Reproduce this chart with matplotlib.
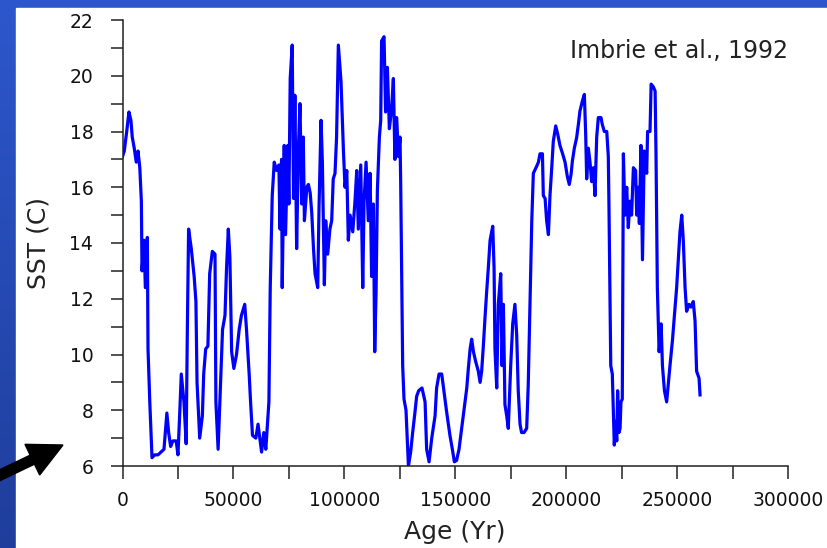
import numpy as np
import matplotlib.pyplot as plt
from matplotlib.patches import Rectangle, FancyArrow
from matplotlib.transforms import IdentityTransform
from matplotlib.colors import LinearSegmentedColormap

# Sea surface temperature record (Imbrie et al., 1992)
age = [0, 800, 1900, 2900, 3800, 4400, 5300, 6200, 7000, 7800,
       8500, 8800, 9700, 10300, 11200, 11500, 12300, 13300, 14500, 16000,
       18700, 19300, 20000, 20800, 21700, 22700, 24200, 25000, 25700, 26500,
       27700, 28700, 29200, 29800, 31000, 32300, 33100, 33600, 34800, 36000,
       36600, 37500, 38500, 39300, 40500, 41700, 42100, 43100, 44200, 45100,
       46200, 46900, 47700, 48400, 49200, 50200, 51400, 52600, 53600, 55100,
       55900, 57100, 57800, 58600, 60100, 61100, 61900, 62700, 63700, 64600,
       65400, 66000, 66600, 67500, 68400, 69500, 70500, 71000, 71700, 72000,
       72900, 73500, 74500, 75000, 75600, 76500, 77100, 77700, 78500, 79300,
       80000, 80800, 81500, 82000, 83100, 83800, 84600, 85300, 86100, 86800,
       88000, 88600, 89500, 90100, 91000, 91600, 92500, 93500, 94300, 95000,
       95800, 96500, 97300, 98500, 99600, 100300, 101100, 101800, 102600, 103800,
       104800, 105600, 106300, 107400, 108300, 108900, 109800, 110800, 111600, 112300,
       113100, 113700, 114300, 114900, 115800, 116400, 116800, 117900, 118600, 119400,
       120300, 121300, 122100, 122800, 123600, 124400, 125100, 125400, 126300, 126900,
       127800, 128900, 129900, 130800, 131800, 132600, 133500, 135000, 136400, 137100,
       138200, 139400, 140900, 141600, 142700, 143900, 145100, 146100, 147600, 148700,
       149600, 150600, 151700, 152900, 154100, 155200, 155900, 156700, 157400, 158200,
       159200, 160400, 161200, 161900, 162700, 163400, 164200, 164900, 165700, 166900,
       167500, 167900, 168700, 169400, 170500, 171100, 171700, 172400, 173200, 173900,
       175000, 175900, 176900, 177700, 178400, 179200, 179900, 181000, 182200, 182900,
       183700, 184500, 185200, 186400, 187500, 188200, 189300, 189700, 190500, 191200,
       192000, 192700, 193500, 194200, 195300, 196200, 197200, 198400, 199500, 200500,
       201400, 202200, 202800, 203700, 204700, 205500, 206200, 207300, 208200, 208800,
       209250, 210000, 210750, 211500, 212260, 213000, 213760, 214500, 215700, 216300,
       217200, 218300, 219000, 219300, 220100, 220800, 221300, 221700, 222300, 222800,
       223200, 223800, 224300, 224700, 225300, 225800, 226500, 227300, 228000, 228800,
       229500, 230300, 231300, 231800, 232500, 233000, 233700, 234400, 235200, 236300,
       236700, 237800, 238300, 239300, 240100, 240500, 241100, 241900, 242800, 243400,
       244300, 245300, 246100, 246800, 247900, 248800, 249800, 250600, 251300, 252100,
       252800, 253600, 254300, 255400, 256300, 257300, 258100, 258800, 259900, 260350]

sst = [17.1, 17.3, 18.0, 18.7, 18.4, 17.8, 17.4, 16.9, 17.3, 16.7,
       15.5, 13.0, 14.1, 12.4, 14.2, 10.2, 8.3, 6.3, 6.4, 6.4,
       6.6, 7.2, 7.9, 7.2, 6.7, 6.9, 6.9, 6.4, 7.7, 9.3,
       8.3, 6.8, 10.7, 14.5, 13.8, 12.8, 11.9, 9.0, 7.0, 7.8,
       9.3, 10.2, 10.3, 12.9, 13.7, 13.6, 8.3, 6.6, 9.0, 10.9,
       11.4, 13.1, 14.5, 13.5, 10.1, 9.5, 10.0, 10.9, 11.4, 11.8,
       10.9, 9.3, 8.2, 7.1, 7.0, 7.5, 7.0, 6.5, 7.2, 6.6,
       7.6, 8.3, 12.4, 15.7, 16.9, 16.6, 16.8, 14.5, 17.0, 12.4,
       17.5, 14.3, 17.5, 15.4, 19.9, 21.1, 15.6, 19.3, 13.8, 17.4,
       19.0, 15.4, 17.8, 14.8, 16.0, 16.1, 15.8, 15.1, 13.8, 12.9,
       12.4, 15.3, 18.4, 16.9, 12.5, 14.8, 13.6, 14.5, 14.8, 16.3,
       16.5, 17.8, 21.1, 19.8, 17.3, 16.0, 16.6, 14.1, 15.0, 14.4,
       15.5, 16.6, 14.5, 16.8, 12.4, 15.5, 16.9, 14.8, 16.5, 12.8,
       15.4, 10.1, 12.2, 15.9, 17.8, 18.4, 21.25, 21.4, 18.7, 20.3,
       18.1, 18.8, 19.9, 17.0, 18.5, 17.1, 17.8, 16.2, 9.6, 8.4,
       8.0, 6.0, 6.5, 7.2, 7.9, 8.5, 8.7, 8.8, 8.3, 6.6,
       6.15, 7.0, 7.8, 8.8, 9.3, 9.3, 8.55, 7.95, 7.1, 6.6,
       6.15, 6.2, 6.6, 7.35, 8.1, 8.8, 9.5, 10.2, 10.55, 10.1,
       9.75, 9.4, 9.0, 9.4, 10.35, 11.3, 12.3, 13.1, 14.1, 14.6,
       13.1, 10.2, 8.8, 11.8, 12.9, 9.6, 11.8, 8.2, 7.8, 7.35,
       9.6, 11.1, 11.8, 10.7, 8.7, 7.5, 7.2, 7.2, 7.35, 8.9,
       11.9, 14.8, 16.5, 16.7, 16.9, 17.2, 17.2, 15.7, 15.6, 14.8,
       14.3, 15.7, 16.7, 17.65, 18.2, 17.9, 17.5, 17.2, 16.9, 16.4,
       16.1, 16.46, 16.94, 17.41, 17.77, 18.25, 18.73, 19.09, 19.33, 17.9,
       16.3, 17.4, 16.9, 16.2, 16.7, 15.7, 17.8, 18.5, 18.5, 18.25,
       18.0, 18.0, 17.1, 15.3, 9.6, 9.3, 7.8, 6.75, 7.6, 6.9,
       8.7, 7.2, 7.35, 8.3, 8.4, 17.2, 15.0, 16.0, 14.55, 15.5,
       15.0, 16.7, 16.6, 15.0, 16.0, 14.7, 17.5, 13.4, 17.3, 16.5,
       18.0, 18.0, 19.7, 19.6, 19.45, 17.2, 12.4, 10.1, 11.1, 9.6,
       8.7, 8.3, 9.0, 9.6, 10.5, 11.4, 12.4, 13.5, 14.4, 15.0,
       14.1, 12.4, 11.55, 11.8, 11.7, 11.9, 11.2, 9.4, 9.15, 8.55]

x_ticks = [0, 50000, 100000, 150000, 200000, 250000, 300000]
y_ticks = [6, 8, 10, 12, 14, 16, 18, 20, 22]

W, H = 827, 548
fig = plt.figure(figsize=(W / 100, H / 100), dpi=100)

### Blue slide backdrop with white panel
bg = fig.add_axes([0, 0, 1, 1], zorder=-2)
cmap = LinearSegmentedColormap.from_list('slide', ['#2d57cc', '#1f3e9c'])
bg.imshow(np.linspace(0, 1, 256)[:, None], aspect='auto', cmap=cmap,
          extent=[0, 1, 0, 1], origin='upper')
bg.add_patch(Rectangle((16 / W, 0), 1, (H - 7.5) / H, color='white'))
bg.set_xlim(0, 1)
bg.set_ylim(0, 1)
bg.axis('off')

### Main plot
ax = fig.add_axes([122.5 / W, 82 / H, (788 - 122.5) / W, (466 - 20) / H])
ax.set_facecolor('none')
ax.plot(age, sst, color='#0000ff', lw=2.3)

ax.set_xlim(0, 300000)
ax.set_ylim(6, 22)
ax.set_xticks(x_ticks, labels=[str(t) for t in x_ticks])
ax.set_xticks(np.arange(25000, 300000, 50000), minor=True)
ax.set_yticks(y_ticks, labels=[str(t) for t in y_ticks])
ax.set_yticks(np.arange(7, 22, 2), minor=True)
ax.tick_params(which='both', direction='out', length=9, width=1.1, color='#222222')
ax.tick_params(which='major', labelsize=13.5, labelcolor='#111111')
ax.tick_params(axis='x', which='major', pad=9)
ax.tick_params(axis='y', which='major', pad=12)

for side in ['top', 'right']:
    ax.spines[side].set_visible(False)
for side in ['left', 'bottom']:
    ax.spines[side].set_linewidth(1.1)
    ax.spines[side].set_color('#222222')

ax.set_xlabel('Age (Yr)', fontsize=18, color='#222222', labelpad=7)
ax.set_ylabel('SST (C)', fontsize=18, color='#222222', labelpad=14)

ax.text(1.0, 0.93, 'Imbrie et al., 1992', transform=ax.transAxes,
        ha='right', va='center', fontsize=17, color='#222222')

### Pointer arrow at lower left
arrow = FancyArrow(-6, 70, 69, 33, width=10, head_width=34, head_length=34,
                   length_includes_head=True, color='black',
                   transform=IdentityTransform())
fig.add_artist(arrow)

fig.savefig('out.png', dpi=100)
